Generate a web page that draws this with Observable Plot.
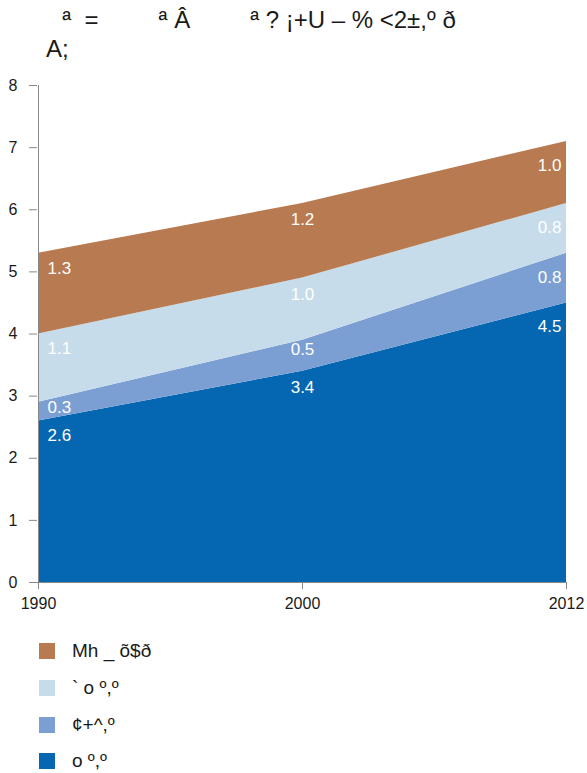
<!DOCTYPE html>
<html>
<head>
<meta charset="utf-8">
<script src="https://cdn.jsdelivr.net/npm/d3@7"></script>
<script src="https://cdn.jsdelivr.net/npm/@observablehq/plot@0.6"></script>
<style>
  body { margin: 0; background: #fff; font-family: "Liberation Sans", Arial, sans-serif; width: 587px; overflow: hidden; }
  #title { height: 70px; box-sizing: border-box; padding: 5px 0 0 46px; font-size: 24px; line-height: 29px; color: #1a1a1a; white-space: pre; text-indent: 3px; }
  #chart { height: 563px; }
  #legend { padding-left: 39px; }
  .row { display: flex; align-items: center; height: 36.7px; font-size: 19px; color: #1a1a1a; white-space: pre; }
  .sw { width: 16px; height: 16px; margin-right: 17px; flex: none; }
</style>
</head>
<body>
<div id="title"></div>
<div id="chart"></div>
<div id="legend"></div>
<script>
// ---- data ----
const titleLines = ["  ª  =         ª Â         ª ? ¡+U – % <2±,º ð", "A;"];
const years = ["1990", "2000", "2012"];
const seriesNames = ["o º,º", "¢+^,º", "` o º,º", "Mh _ õ$ð"]; // bottom -> top
const seriesColors = ["#0567b1", "#7b9fd3", "#c7dcea", "#b87a50"];
const valuesBottom = [2.6, 3.4, 4.5];   // o º,º
const valuesSecond = [0.3, 0.5, 0.8];   // ¢+^,º
const valuesThird  = [1.1, 1.0, 0.8];   // ` o º,º
const valuesTop    = [1.3, 1.2, 1.0];   // Mh _ õ$ð
const yTicks = [0, 1, 2, 3, 4, 5, 6, 7, 8];

// ---- build table ----
const seriesValues = [valuesBottom, valuesSecond, valuesThird, valuesTop];
const rows = [];
years.forEach((yr, i) => {
  let cum = 0;
  seriesValues.forEach((vals, s) => {
    cum += vals[i];
    rows.push({year: yr, series: seriesNames[s], value: vals[i], top: Math.round(cum * 10) / 10, col: i});
  });
});

document.getElementById("title").textContent = titleLines.join("\n");

const H = 565, MT = 15, MB = 53;
const pxPerUnit = (H - MT - MB) / 8;
const colOffset = [15, 16, 24];
const labelY = d => d.top - (d.value < 0.6 ? d.value * 19 : colOffset[d.col]) / pxPerUnit;

const labelMark = (col, anchor, dx) => Plot.text(rows.filter(d => d.col === col), {
  x: "year", y: labelY, text: d => d.value.toFixed(1),
  textAnchor: anchor, dx, fill: "white", fontSize: 17
});

const chart = Plot.plot({
  width: 587, height: H,
  marginLeft: 37, marginRight: 21, marginTop: MT, marginBottom: MB,
  style: {fontFamily: "Liberation Sans, Arial, sans-serif", background: "white", overflow: "visible"},
  x: {type: "point", domain: years, padding: 0},
  y: {domain: [0, 8]},
  color: {domain: seriesNames, range: seriesColors},
  marks: [
    Plot.areaY(rows, {x: "year", y: "value", fill: "series", order: seriesNames, curve: "linear"}),
    labelMark(0, "start", 9),
    labelMark(1, "middle", 0),
    labelMark(2, "end", -5),
    Plot.ruleX([years[0]], {stroke: "#888", strokeWidth: 1}),
    Plot.ruleY([0], {stroke: "#888", strokeWidth: 1}),
    Plot.axisY({ticks: yTicks, tickSize: 8, tickPadding: 12, fontSize: 16, stroke: "#888", color: "#1a1a1a", label: null, tickFormat: d => String(d)}),
    Plot.axisX({tickSize: 7, tickPadding: 8, fontSize: 16, stroke: "#888", color: "#1a1a1a", label: null})
  ]
});
document.getElementById("chart").append(chart);

const legend = document.getElementById("legend");
for (let s = seriesNames.length - 1; s >= 0; s--) {
  const row = document.createElement("div");
  row.className = "row";
  const sw = document.createElement("span");
  sw.className = "sw";
  sw.style.background = seriesColors[s];
  const t = document.createElement("span");
  t.textContent = seriesNames[s];
  row.append(sw, t);
  legend.append(row);
}
</script>
</body>
</html>
